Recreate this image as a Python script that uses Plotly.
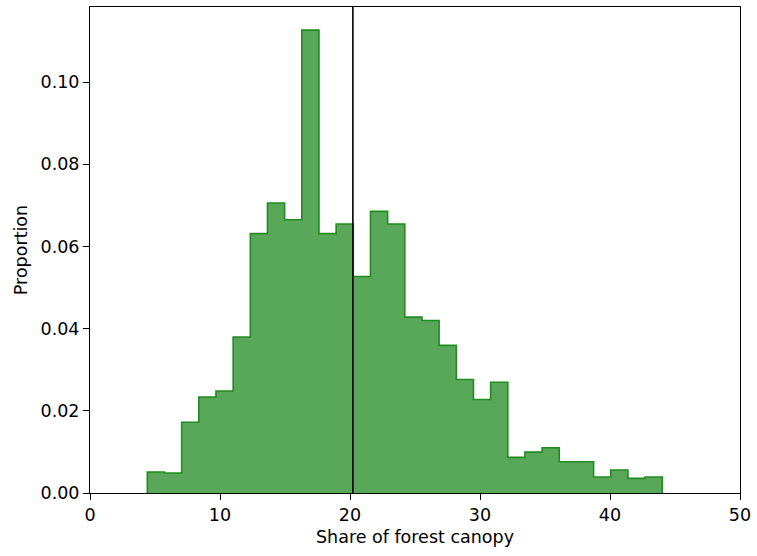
import numpy as np
import plotly.graph_objects as go

# Histogram of forest canopy share: 30 equal-width bins, bar heights as proportions
bin_start = 4.41
bin_end = 44.02
n_bins = 30
proportion = [
    0.00510, 0.00485, 0.01723, 0.02337, 0.02483, 0.03794, 0.06311, 0.07056,
    0.06650, 0.11262, 0.06311, 0.06546, 0.05267, 0.06852, 0.06546, 0.04279,
    0.04199, 0.03592, 0.02760, 0.02274, 0.02694, 0.00867, 0.00995, 0.01100,
    0.00760, 0.00760, 0.00388, 0.00558, 0.00357, 0.00388,
]
mean_value = 20.22

x_range = [0, 50]
x_ticks = [0, 10, 20, 30, 40, 50]
y_ticks = [0.00, 0.02, 0.04, 0.06, 0.08, 0.10]

edges = np.linspace(bin_start, bin_end, n_bins + 1)

# Step outline: left edge up, bin tops, right edge down
step_x = [edges[0]] + list(edges[:-1]) + [edges[-1], edges[-1]]
step_y = [0] + proportion + [proportion[-1], 0]

fig = go.Figure()
fig.add_trace(go.Scatter(
    x=step_x, y=step_y,
    mode="lines",
    line=dict(shape="hv", color="rgb(34,139,34)", width=1.6),
    fill="toself",
    fillcolor="rgba(34,139,34,0.75)",
    hoverinfo="skip",
    showlegend=False,
))

y_top = max(proportion) * 1.05
fig.add_trace(go.Scatter(
    x=[mean_value, mean_value], y=[0, y_top],
    mode="lines",
    line=dict(color="black", width=1.6),
    showlegend=False,
))

axis_common = dict(
    showline=True, linecolor="black", linewidth=1, mirror=True,
    ticks="outside", ticklen=6, tickwidth=1, tickcolor="black",
    showgrid=False, zeroline=False,
    tickfont=dict(family="DejaVu Sans", size=17.5, color="black"),
)

fig.update_layout(
    width=757, height=556,
    margin=dict(l=90, r=13, t=6, b=63),
    plot_bgcolor="white", paper_bgcolor="white",
    font=dict(family="DejaVu Sans", size=17.5, color="black"),
    xaxis=dict(
        range=x_range, tickvals=x_ticks,
        title=dict(text="Share of forest canopy", standoff=6,
                   font=dict(family="DejaVu Sans", size=17.5)),
        **axis_common,
    ),
    yaxis=dict(
        range=[0, y_top], tickvals=y_ticks, tickformat=".2f",
        title=dict(text="Proportion", standoff=8,
                   font=dict(family="DejaVu Sans", size=17.5)),
        **axis_common,
    ),
)

fig.write_html("out.html")
